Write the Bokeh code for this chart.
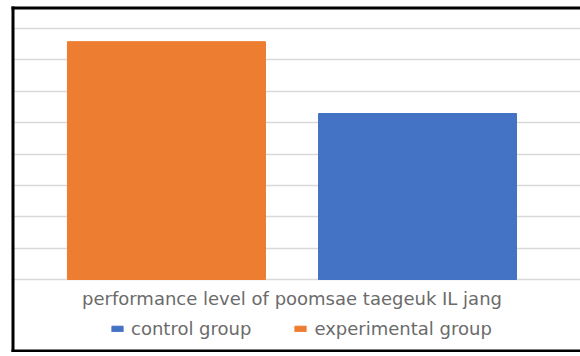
from bokeh.plotting import figure
from bokeh.models import (ColumnDataSource, Range1d, FixedTicker, Legend,
                          LegendItem, BoxAnnotation, Label)
from bokeh.embed import file_html
from bokeh.resources import INLINE

# ---- data ----
category = "performance level of poomsae taegeuk IL jang"
groups = ["experimental group", "control group"]   # plot order, left to right
values = [75.8, 52.9]
colors = ["#ED7D31", "#4472C4"]
legend_order = ["control group", "experimental group"]
y_ticks = [0, 10, 20, 30, 40, 50, 60, 70, 80]

# ---- layout helpers ----
W, H = 580, 352
center = 0.5
offset = 0.227
bar_w = 0.358
xs = [center - offset, center + offset]

FONT = "DejaVu Sans"
TXT = "#6b6b6b"
FS = "18px"

source = ColumnDataSource(dict(x=xs, top=values, color=colors, label=groups))

# frame covers the whole canvas; ranges chosen so 0..80 sits at px 279..28
px_per_unit_y = (279 - 28) / 80.0
y0 = -(H - 279) / px_per_unit_y
y1 = 80 + 28 / px_per_unit_y
px_per_unit_x = 553.0
x0 = center - 291.5 / px_per_unit_x
x1 = center + (W - 291.5) / px_per_unit_x

p = figure(width=W, height=H, x_range=Range1d(x0, x1), y_range=Range1d(y0, y1),
           x_axis_location=None, y_axis_location=None,
           output_backend="svg", toolbar_location=None,
           min_border=0)
p.background_fill_color = "white"
p.border_fill_color = "white"
p.outline_line_color = None

p.xgrid.visible = False
p.ygrid.ticker = FixedTicker(ticks=y_ticks)
p.ygrid.grid_line_color = "#d9d9d9"
p.ygrid.grid_line_width = 1.5

r = p.vbar(x="x", top="top", width=bar_w, bottom=0, color="color", source=source)

# category label under the bars
p.add_layout(Label(x=center, y=H - 298, y_units="screen", text=category,
                   text_align="center", text_baseline="middle",
                   text_font=FONT, text_font_size=FS, text_color=TXT))

idx = {g: i for i, g in enumerate(groups)}
items = [LegendItem(label=g, renderers=[r], index=idx[g]) for g in legend_order]
legend = Legend(items=items, orientation="horizontal", location=(110, H - 339),
                glyph_width=14, glyph_height=7, label_standoff=7, spacing=42,
                padding=0, margin=0, border_line_color=None,
                background_fill_alpha=0, label_text_font=FONT,
                label_text_font_size=FS, label_text_color=TXT)
p.add_layout(legend)


def screen_box(left, right, top, bottom, color):
    # page pixels (top-down) -> frame screen units (bottom-up)
    return BoxAnnotation(left=left, right=right, top=H - top, bottom=H - bottom,
                         left_units="screen", right_units="screen",
                         top_units="screen", bottom_units="screen",
                         fill_color=color, fill_alpha=1, line_color=None,
                         line_alpha=0, line_width=0, level="overlay")


# white margin left of the chart border
p.add_layout(screen_box(0, 11, 0, H, "white"))
# black chart border (top, left, bottom edges; right edge lies beyond the crop)
p.add_layout(screen_box(11, W, 6, 9, "black"))
p.add_layout(screen_box(11, 14, 6, H, "black"))
p.add_layout(screen_box(11, W, H - 3, H, "black"))

open("out.html", "w").write(file_html(p, INLINE))
